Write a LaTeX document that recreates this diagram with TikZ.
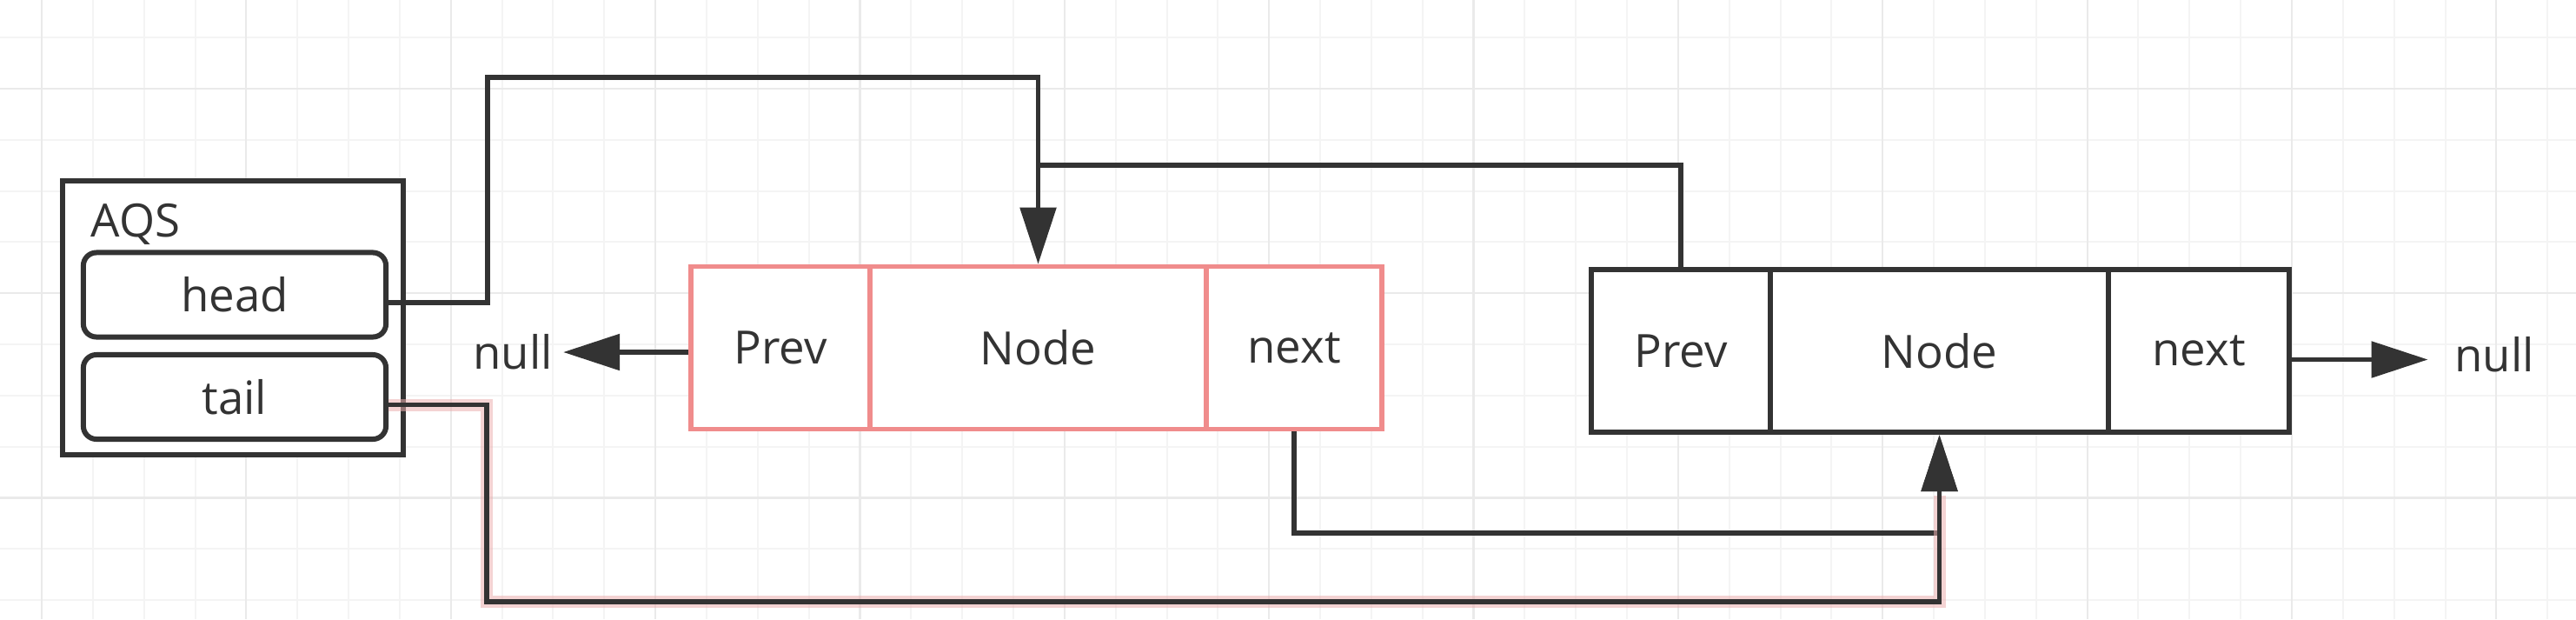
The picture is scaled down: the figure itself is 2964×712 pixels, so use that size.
\documentclass[tikz,border=0pt]{standalone}
\usepackage{fontspec}
\setmainfont{Open Sans}
\usetikzlibrary{arrows.meta,calc}
\definecolor{ink}{RGB}{51,51,51}
\definecolor{pinkline}{RGB}{240,140,140}
\definecolor{glow}{RGB}{235,175,175}
\definecolor{gridminor}{RGB}{244,244,244}
\definecolor{gridmajor}{RGB}{234,234,234}
\begin{document}
\begin{tikzpicture}[x=0.01cm,y=-0.01cm,
  txt/.style={font=\fontsize{15}{18}\selectfont, text=ink},
  cell/.style={txt, draw=ink, line width=0.06cm, minimum height=1.87cm, inner sep=0pt},
  redcell/.style={cell, draw=pinkline, line width=0.055cm},
  field/.style={txt, draw=ink, line width=0.06cm, rounded corners=0.15cm, minimum width=3.48cm, minimum height=0.97cm, inner sep=0pt},
  link/.style={draw=ink, line width=0.055cm},
  tipped/.style={-{Triangle[length=0.65cm,width=0.41cm]}},
  minorline/.style={draw=gridminor, line width=0.02cm},
  majorline/.style={draw=gridmajor, line width=0.022cm}
]
\fill[white] (0,0) rectangle (2964,712);
\useasboundingbox (0,0) rectangle (2964,712);
% grid
\foreach \i in {0,...,49} {\draw[minorline] ({48+\i*58.84},0) -- ({48+\i*58.84},712);}
\foreach \j in {0,...,11} {\draw[minorline] (0,{43+\j*58.84}) -- (2964,{43+\j*58.84});}
\foreach \i in {0,4,...,48} {\draw[majorline] ({48+\i*58.84},0) -- ({48+\i*58.84},712);}
\foreach \j in {1,5,9} {\draw[majorline] (0,{43+\j*58.84}) -- (2964,{43+\j*58.84});}

% AQS
\node[draw=ink, line width=0.065cm, fill=white, minimum width=3.92cm, minimum height=3.15cm, inner sep=0pt] (aqs) at (268,365.5) {};
\node[txt, anchor=base west, inner sep=0pt] (aqsl) at (104,272) {AQS};
\node[field, fill=white] (head) at (270,339) {head};
\node[field, fill=white] (tail) at (270,456.5) {tail};

% left (red) node
\node[redcell, fill=white, minimum width=2.06cm] (lp) at (898,400) {Prev};
\node[redcell, fill=white, minimum width=3.87cm] (ln) at (1194.5,400) {Node};
\node[redcell, fill=white, minimum width=2.02cm] (lx) at (1489,400) {next};

% right node
\node[cell, fill=white, minimum width=2.06cm] (rp) at (1934,403.5) {Prev};
\node[cell, fill=white, minimum width=3.89cm] (rn) at (2231.5,403.5) {Node};
\node[cell, fill=white, minimum width=2.08cm] (rx) at (2530,403.5) {next};

% null labels
\node[txt] (nullL) at (590,405) {null};
\node[txt, inner sep=0pt] (nullR) at (2870,408) {null};

% helper coordinates
\coordinate (h1) at (561,89);
\coordinate (lvl) at (0,190);
\coordinate (j) at (ln.north |- lvl);
\coordinate (nl) at (0,613);
\coordinate (tl) at (560,692);

% head -> left Node
\draw[link, tipped] ([yshift=-0.09cm]head.east) -| (h1) -| (ln.north);
% right Prev -> joins head link
\draw[link] (rp.north) |- (j);
% left Prev -> null
\draw[link, tipped] ([yshift=-0.05cm]lp.west) -- ([yshift=-0.05cm]lp.west -| nullL.east);
% left next -> right Node
\draw[link, tipped] (lx.south) -- (lx.south |- nl) -| (rn.south);
% tail -> right Node (with glow)
\draw[glow, line width=0.14cm, opacity=0.55] ([yshift=-0.09cm]tail.east) -| (tl) -| ([yshift=-0.7cm]rn.south);
\draw[link, tipped] ([yshift=-0.09cm]tail.east) -| (tl) -| (rn.south);
% right next -> null
\draw[link, tipped, shorten >=0.3cm] ([yshift=-0.1cm]rx.east) -- ([yshift=-0.1cm]rx.east -| nullR.west);
\end{tikzpicture}
\end{document}
